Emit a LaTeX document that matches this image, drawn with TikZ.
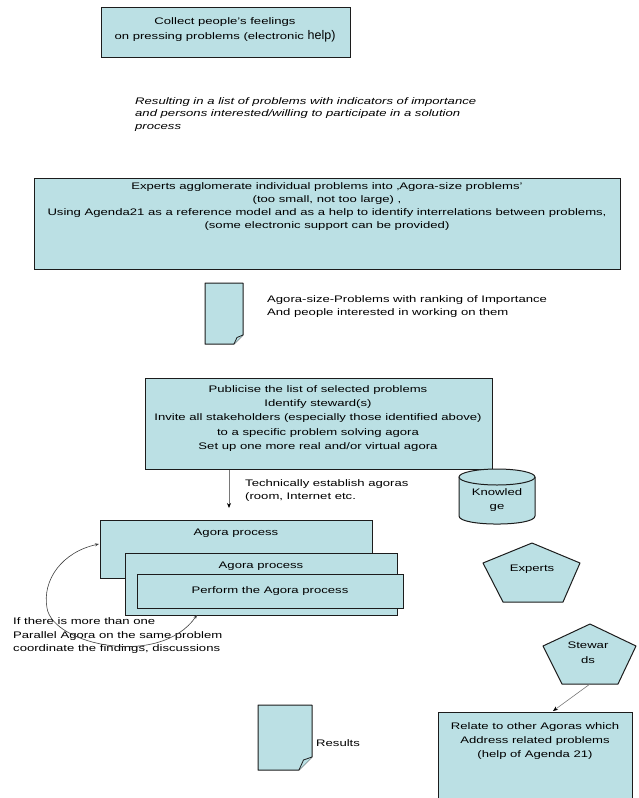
\documentclass[tikz,border=0pt]{standalone}
\usepackage{fontspec}
\setmainfont{Liberation Sans}[FakeStretch=1.38]
\newfontfamily\plainsans{Liberation Sans}
\usetikzlibrary{arrows.meta}
\definecolor{boxfill}{RGB}{187,224,228}
\definecolor{boxline}{RGB}{28,28,28}
\definecolor{linkgray}{RGB}{120,120,120}
\begin{document}
\begin{tikzpicture}[x=1pt,y=-1pt,
  box/.style={draw=boxline,line width=1.2pt,fill=boxfill,rectangle,inner sep=0pt,anchor=north west},
  outline/.style={draw=boxline,line width=1pt,fill=boxfill,line join=round},
  lbl/.style={inner sep=0pt,font=\fontsize{9.5}{#1}\selectfont},
  lbl/.default=13,
  link/.style={draw=linkgray,line width=0.8pt,-{Stealth[length=5pt,width=4pt,black]}},
  loop/.style={draw=black!75,line width=0.6pt,{Stealth[length=4pt,width=3pt]}-{Stealth[length=4pt,width=3pt]}}]
\useasboundingbox (0,0) rectangle (638,798);

% collecting step
\node[box,minimum width=249pt,minimum height=50pt] (collect) at (101,7) {};
\node[lbl=15,align=center] (collect-t) at (225,30)
  {Collect people's feelings\\on pressing problems (electronic {\plainsans\fontsize{12.5}{15}\selectfont help)}};

\node[lbl=12.5,align=left,anchor=west,font=\fontsize{9.5}{12.5}\selectfont\itshape] (result-t) at (135,114.5)
  {Resulting in a list of problems with indicators of importance\\
   and persons interested/willing to participate in a solution\\
   process};

% agglomeration step
\node[box,minimum width=586pt,minimum height=91pt] (experts-box) at (34,178) {};
\node[lbl=12.7,align=center] (experts-t) at (327,206.5)
  {Experts agglomerate individual problems into ‚Agora-size problems'\\
   (too small, not too large) ,\\
   Using Agenda21 as a reference model and as a help to identify interrelations between problems,\\
   (some electronic support can be provided)};

% ranked list document
\draw[outline] (205,283) -- (243,283) -- (243,335) -- (234,344) -- (205,344) -- cycle;
\draw[outline,line width=0.8pt] (243,335) -- (237,337.5) -- (234,344);
\node[lbl,align=left,anchor=west] (ranked-t) at (267,306.5)
  {Agora-size-Problems with ranking of Importance\\And people interested in working on them};

% publicising step
\node[box,minimum width=347pt,minimum height=91pt] (publicise) at (145,378) {};
\node[lbl=14.2,align=center] (publicise-t) at (318,418.5)
  {Publicise the list of selected problems\\
   Identify steward(s)\\
   Invite all stakeholders (especially those identified above)\\
   to a specific problem solving agora\\
   Set up one more real and/or virtual agora};

\coordinate (pub-out) at (229,470);
\coordinate (agora-in) at (229,508);
\draw[link] (pub-out) -- (agora-in);
\node[lbl,align=left,anchor=west] (tech-t) at (245,490.5)
  {Technically establish agoras\\(room, Internet etc.};

% knowledge store
\draw[outline] (459,477) -- (459,516) .. controls (459,526.7) and (535,526.7) .. (535,516) -- (535,477) -- cycle;
\draw[outline] (497,477) ellipse [x radius=38, y radius=8];
\node[lbl=14,align=center] (knowledge) at (497,500.5) {Knowled\\ge};

% parallel agoras
\node[box,minimum width=272pt,minimum height=58pt] (ag1) at (100,520) {};
\node[lbl] (ag1-t) at (236,533) {Agora process};
\node[box,minimum width=272pt,minimum height=62pt] (ag2) at (125,553) {};
\node[lbl] (ag2-t) at (261,566) {Agora process};
\node[box,minimum width=266pt,minimum height=34pt] (ag3) at (137,574) {};
\node[lbl] (ag3-t) at (270,591) {Perform the Agora process};

\node[lbl=13.5,align=left,anchor=west] (coord-t) at (13,636)
  {If there is more than one\\Parallel Agora on the same problem\\coordinate the findings, discussions};
\coordinate (loop-a) at (99,544);
\coordinate (loop-b) at (197,615);
\draw[loop] (loop-a) .. controls (62,552) and (42,580) .. (47,608)
  .. controls (53,645) and (160,668) .. (loop-b);

% experts and stewards
\draw[outline] (532,543) -- (580,563) -- (563,602) -- (503,602) -- (483,563) -- cycle;
\node[lbl] (experts) at (532,569) {Experts};
\draw[outline] (590,624) -- (636,646) -- (618,684) -- (562,684) -- (543,646) -- cycle;
\node[lbl=15,align=center] (stewards) at (588,653) {Stewar\\ds};
\coordinate (stew-out) at (590,684);
\coordinate (relate-in) at (553,711);
\draw[link,line width=0.6pt] (stew-out) -- (relate-in);

% relating step
\node[box,minimum width=194pt,minimum height=100pt] (relate) at (438,712) {};
\node[lbl=14,align=center] (relate-t) at (535,741.5)
  {Relate to other Agoras which\\Address related problems\\(help of Agenda 21)};

% results document
\draw[outline] (258,705) -- (312,705) -- (312,757) -- (299,770) -- (258,770) -- cycle;
\draw[outline,line width=0.8pt] (312,757) -- (303.5,760) -- (299,770);
\node[lbl,anchor=west] (results) at (316,743) {Results};
\end{tikzpicture}
\end{document}
